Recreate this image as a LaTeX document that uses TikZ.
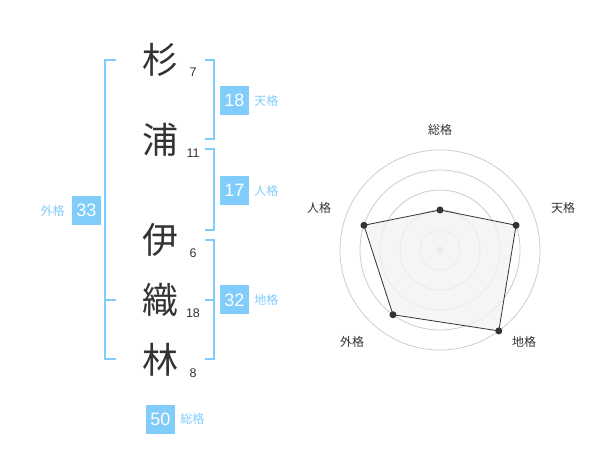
\documentclass[tikz,border=0pt]{standalone}
\usepackage{fontspec}
\setmainfont{Liberation Sans}
\newfontfamily\cjk{Noto Sans CJK JP}
\usetikzlibrary{positioning}
\definecolor{kakublue}{HTML}{80CCFA}
\definecolor{inkgray}{HTML}{333333}
\definecolor{ringgray}{HTML}{CCCCCC}
\definecolor{areagray}{HTML}{F2F2F2}
\tikzset{
    kanji/.style={text=inkgray, font=\cjk\fontsize{36}{36}\selectfont, inner sep=0pt
  },
  strokes/.style={
    text=inkgray, font=\fontsize{12.5}{12.5}\selectfont, inner sep=0pt
  },
  kbox/.style={
    fill=kakublue, text=white, minimum size=29pt, inner sep=0pt,
    font=\fontsize{18}{18}\selectfont
  },
  klabel/.style={
    text=kakublue, font=\cjk\fontsize{12}{12}\selectfont, inner sep=0pt
  },
  brack/.style={
    draw=kakublue, line width=2pt
  },
  ring/.style={
    draw=ringgray, line width=0.8pt
  },
  vert/.style={
    circle, fill=inkgray, minimum size=7pt, inner sep=0pt
  },
  axlabel/.style={
    text=inkgray, font=\cjk\fontsize{12}{12}\selectfont, inner sep=0pt
  }
}

\begin{document}
\begin{tikzpicture}[x=1pt, y=-1pt]
  \useasboundingbox (0,0) rectangle (600,470);
  \begin{scope}
   \node[kanji] (sugi) at (160,60) {杉};
   \node[kanji] (ura) at (160,140) {浦};
   \node[kanji] (i) at (160,240) {伊};
   \node[kanji] (ori) at (160,300) {織};
   \node[kanji] (hayashi) at (160,360) {林};

   \node[strokes] (n7) at (193,72) {7};
   \node[strokes] (n11) at (193,153) {11};
   \node[strokes] (n6) at (193,253) {6};
   \node[strokes] (n18) at (193,313) {18};
   \node[strokes] (n8) at (193,373) {8};

   \draw[brack] (116,60) -- (105,60) -- (105,359) -- (116,359);
   \draw[brack] (105,300) -- (116,300);
   \draw[brack] (205,60) -- (214,60) -- (214,139) -- (205,139);
   \draw[brack] (205,149) -- (214,149) -- (214,230) -- (205,230);
   \draw[brack] (205,240) -- (214,240) -- (214,359) -- (205,359);
   \draw[brack] (205,300) -- (214,300);

   \node[kbox] (ten) at (234.5,100.5) {18};
   \node[klabel, right=5pt of ten] (tenl) {天格};
   \node[kbox] (jin) at (234.5,190.5) {17};
   \node[klabel, right=5pt of jin] (jinl) {人格};
   \node[kbox] (chi) at (234.5,300) {32};
   \node[klabel, right=5pt of chi] (chil) {地格};
   \node[kbox] (gai) at (86.5,210.5) {33};
   \node[klabel, left=7pt of gai] (gail) {外格};
   \node[kbox] (sou) at (160.5,419) {50};
   \node[klabel, right=5pt of sou] (soul) {総格};
 \end{scope}
  \begin{scope}[shift={(440,250)}, yscale=-1]
   \foreach \r in {20,40,60,80,100}
     \draw[ring] (0,0) circle[radius=\r];
   \node[circle, fill=ringgray, minimum size=7pt, inner sep=0pt] (mid) at (0,0) {};

   \coordinate (psou) at (90:40);
   \coordinate (pten) at (18:80);
   \coordinate (pchi) at (-54:100);
   \coordinate (pgai) at (-126:80);
   \coordinate (pjin) at (162:80);
   \draw[fill=areagray, fill opacity=0.8, draw=inkgray, line width=0.8pt]
     (psou) -- (pten) -- (pchi) -- (pgai) -- (pjin) -- cycle;
   \foreach \p in {psou,pten,pchi,pgai,pjin}
     \node[vert] (v\p) at (\p) {};

   \node[axlabel] (asou) at (0,120) {総格};
   \node[axlabel] (aten) at (123,42) {天格};
   \node[axlabel] (achi) at (84,-92) {地格};
   \node[axlabel] (agai) at (-88,-92) {外格};
   \node[axlabel] (ajin) at (-121,42) {人格};
 \end{scope}
\end{tikzpicture}
\end{document}
